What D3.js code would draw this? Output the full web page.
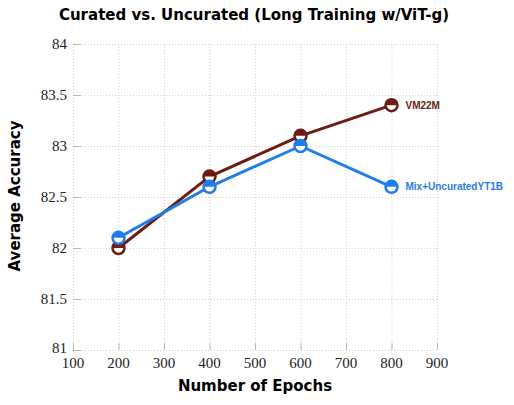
<!DOCTYPE html>
<html>
<head>
<meta charset="utf-8">
<script src="https://cdn.jsdelivr.net/npm/d3@7"></script>
<style>
  body { margin: 0; background: #fff; }
  svg { display: block; }
  .tick-label { font-family: "Liberation Serif", "DejaVu Serif", serif; font-size: 15px; fill: #222; }
  .bold-sans { font-family: "DejaVu Sans", "Liberation Sans", sans-serif; font-weight: bold; }
  .series-label { font-family: "Liberation Sans", Arial, sans-serif; font-weight: bold; font-size: 10px; }
</style>
</head>
<body>
<svg id="chart" width="514" height="405"></svg>
<script>
// epochs on the x axis
var epochs = [200, 400, 600, 800];
// average accuracy per series
var vm22m = [82.0, 82.7, 83.1, 83.4];
var mixUncurated = [82.1, 82.6, 83.0, 82.6];
var seriesNames = ["VM22M", "Mix+UncuratedYT1B"];
var seriesColors = ["#6b1d14", "#1f7ded"];
var xTicks = [100, 200, 300, 400, 500, 600, 700, 800, 900];
var yTicks = [81, 81.5, 82, 82.5, 83, 83.5, 84];

var svg = d3.select("#chart");
var plotL = 73, plotR = 437, plotT = 44, plotB = 350;

var x = d3.scaleLinear().domain([100, 900]).range([plotL, plotR]);
var y = d3.scaleLinear().domain([81, 84]).range([plotB, plotT]);

// grid
var grid = svg.append("g").attr("stroke", "#cfcfcf").attr("stroke-width", 1)
  .attr("stroke-dasharray", "1,2");
grid.selectAll("line.gx").data(xTicks).enter().append("line")
  .attr("x1", d => x(d) + 0.5).attr("x2", d => x(d) + 0.5)
  .attr("y1", plotT).attr("y2", plotB);
grid.selectAll("line.gy").data(yTicks).enter().append("line")
  .attr("x1", plotL).attr("x2", plotR)
  .attr("y1", d => y(d) + 0.5).attr("y2", d => y(d) + 0.5);

// small tick marks
var ticks = svg.append("g").attr("stroke", "#b8b8b8").attr("stroke-width", 1);
ticks.selectAll("line.ty").data(yTicks).enter().append("line")
  .attr("x1", plotL).attr("x2", plotL + 8)
  .attr("y1", d => y(d) + 0.5).attr("y2", d => y(d) + 0.5);
ticks.selectAll("line.tx").data(xTicks).enter().append("line")
  .attr("x1", d => x(d) + 0.5).attr("x2", d => x(d) + 0.5)
  .attr("y1", plotB).attr("y2", plotB - 7);

// tick labels
svg.selectAll("text.yl").data(yTicks).enter().append("text")
  .attr("class", "tick-label")
  .attr("x", plotL - 6).attr("y", d => y(d) - (d === 81 ? 2 : 0))
  .attr("dy", "0.35em").attr("text-anchor", "end")
  .text(d => d);
svg.selectAll("text.xl").data(xTicks).enter().append("text")
  .attr("class", "tick-label")
  .attr("x", d => x(d)).attr("y", plotB + 18)
  .attr("text-anchor", "middle")
  .text(d => d);

// titles
svg.append("text").attr("class", "bold-sans")
  .attr("x", 254).attr("y", 20).attr("text-anchor", "middle")
  .attr("font-size", "15px").text("Curated vs. Uncurated (Long Training w/ViT-g)");
svg.append("text").attr("class", "bold-sans")
  .attr("x", 255).attr("y", 391).attr("text-anchor", "middle")
  .attr("font-size", "15px").text("Number of Epochs");
svg.append("text").attr("class", "bold-sans")
  .attr("transform", "translate(20,196) rotate(-90)").attr("text-anchor", "middle")
  .attr("font-size", "15px").text("Average Accuracy");

var allSeries = [vm22m, mixUncurated];
var line = d3.line().x(d => x(d[0])).y(d => y(d[1]));
var r = 6;
var halfArc = d3.arc().innerRadius(0).outerRadius(r)
  .startAngle(-Math.PI / 2).endAngle(Math.PI / 2);

allSeries.forEach(function (vals, si) {
  var pts = epochs.map((e, i) => [e, vals[i]]);
  var col = seriesColors[si];
  var g = svg.append("g");
  g.append("path").datum(pts)
    .attr("fill", "none").attr("stroke", col).attr("stroke-width", 3)
    .attr("stroke-linejoin", "round").attr("d", line);
  var m = g.selectAll("g.mk").data(pts).enter().append("g")
    .attr("transform", d => "translate(" + x(d[0]) + "," + y(d[1]) + ")");
  m.append("circle").attr("r", r).attr("fill", "#fff")
    .attr("stroke", col).attr("stroke-width", 2.5);
  m.append("path").attr("d", halfArc).attr("fill", col);
  var last = pts[pts.length - 1];
  g.append("text").attr("class", "series-label")
    .attr("x", x(last[0]) + 14).attr("y", y(last[1]))
    .attr("dy", "0.35em").attr("fill", col)
    .text(seriesNames[si]);
});
</script>
</body>
</html>
